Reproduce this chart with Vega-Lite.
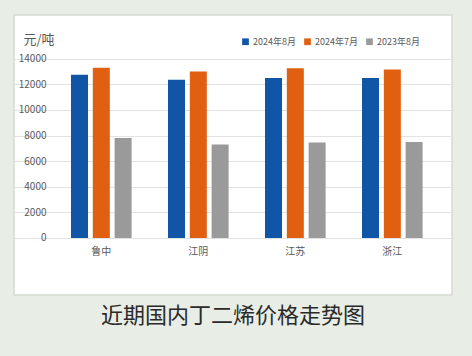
{
  "$schema": "https://vega.github.io/schema/vega-lite/v6.json",
  "autosize": {"type": "none"},
  "width": 438,
  "height": 280,
  "padding": {"left": 14, "top": 15, "right": 20, "bottom": 61},
  "background": "#E8EEE5",
  "title": {
    "text": "近期国内丁二烯价格走势图",
    "orient": "bottom",
    "anchor": "middle",
    "frame": "group",
    "fontSize": 22,
    "fontWeight": "normal",
    "color": "#2A2A2A",
    "font": "Noto Sans CJK SC",
    "offset": 11
  },
  "config": {
    "font": "Noto Sans CJK SC",
    "view": {"fill": "#ffffff", "stroke": "#D5DAD2", "strokeWidth": 1.5}
  },
  "data": {
    "values": [
      {"region": "鲁中", "series": "2024年8月", "price": 12750},
      {"region": "鲁中", "series": "2024年7月", "price": 13300},
      {"region": "鲁中", "series": "2023年8月", "price": 7800},
      {"region": "江阴", "series": "2024年8月", "price": 12350},
      {"region": "江阴", "series": "2024年7月", "price": 13000},
      {"region": "江阴", "series": "2023年8月", "price": 7300},
      {"region": "江苏", "series": "2024年8月", "price": 12500},
      {"region": "江苏", "series": "2024年7月", "price": 13250},
      {"region": "江苏", "series": "2023年8月", "price": 7450},
      {"region": "浙江", "series": "2024年8月", "price": 12500},
      {"region": "浙江", "series": "2024年7月", "price": 13150},
      {"region": "浙江", "series": "2023年8月", "price": 7500}
    ]
  },
  "mark": {"type": "bar"},
  "encoding": {
    "x": {
      "field": "region",
      "type": "nominal",
      "sort": null,
      "scale": {"paddingInner": 0.375, "paddingOuter": 0.445, "align": 0.66},
      "axis": {
        "title": null,
        "orient": "bottom",
        "offset": -57,
        "ticks": false,
        "domain": false,
        "labelAngle": 0,
        "labelFontSize": 10,
        "labelColor": "#595959",
        "labelPadding": 8
      }
    },
    "xOffset": {
      "field": "series",
      "type": "nominal",
      "sort": ["2024年8月", "2024年7月", "2023年8月"],
      "scale": {"paddingInner": 0.22, "paddingOuter": 0}
    },
    "y": {
      "field": "price",
      "type": "quantitative",
      "scale": {"domain": [-4451, 17412], "nice": false, "zero": false},
      "axis": {
        "title": "元/吨",
        "titleAngle": 0,
        "titleAlign": "left",
        "titleBaseline": "alphabetic",
        "titleX": -25,
        "titleY": 28,
        "titleFontSize": 13,
        "titleFontWeight": "normal",
        "titleColor": "#595959",
        "values": [0, 2000, 4000, 6000, 8000, 10000, 12000, 14000],
        "format": "d",
        "offset": -34,
        "domain": false,
        "ticks": false,
        "labelFontSize": 10,
        "labelColor": "#595959",
        "labelPadding": 2,
        "gridColor": "#E3E3E3",
        "gridWidth": 1
      }
    },
    "color": {
      "field": "series",
      "type": "nominal",
      "sort": ["2024年8月", "2024年7月", "2023年8月"],
      "scale": {
        "domain": ["2024年8月", "2024年7月", "2023年8月"],
        "range": ["#1055A6", "#E15F10", "#9A9A9A"]
      },
      "legend": {
        "title": null,
        "orient": "none",
        "direction": "horizontal",
        "legendX": 227,
        "legendY": 22,
        "symbolType": "square",
        "symbolSize": 45,
        "symbolStrokeWidth": 0,
        "labelFontSize": 9,
        "labelColor": "#595959",
        "labelOffset": 3,
        "columnPadding": 7,
        "padding": 0
      }
    }
  }
}
